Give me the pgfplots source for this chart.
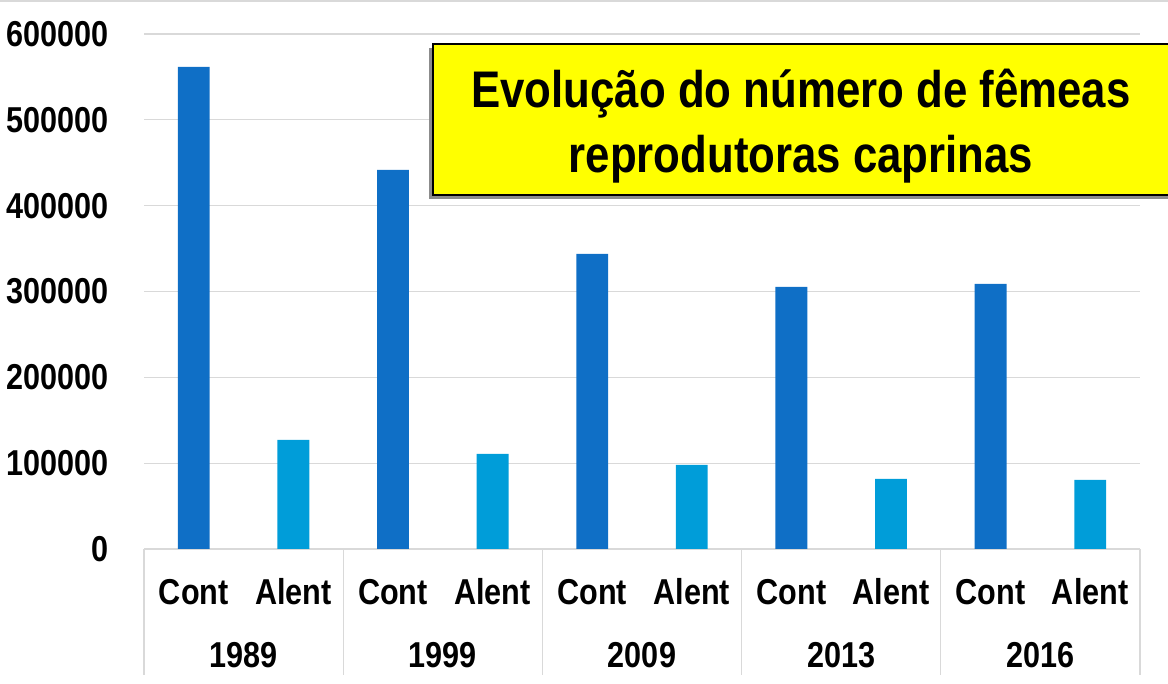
\documentclass[border=0pt]{standalone}
\usepackage{fontspec}
\setmainfont{Liberation Sans}[FakeStretch=0.85]
\usepackage{pgfplots}
\pgfplotsset{compat=1.18}
\definecolor{contblue}{HTML}{0F6FC6}
\definecolor{alentblue}{HTML}{009DD9}
\definecolor{gridgray}{HTML}{D9D9D9}
\definecolor{titleyellow}{HTML}{FFFF00}
\newcommand{\lblfont}{\fontsize{36}{40}\selectfont\bfseries}
\begin{document}
\begin{tikzpicture}[x=1pt,y=1pt]
\useasboundingbox (0,0) rectangle (1168,684);
\draw[gridgray, line width=1.5pt] (0,683) -- (1168,683);
\begin{axis}[
  at={(144pt,135pt)}, anchor=south west,
  width=996pt, height=515pt, scale only axis,
  xmin=-0.5, xmax=9.5, ymin=0, ymax=600000,
  ytick={0,100000,200000,300000,400000,500000,600000},
  scaled y ticks=false,
  axis line style={draw=none}, tick style={draw=none},
  ymajorgrids, grid style={gridgray, line width=1.2pt},
  yticklabel style={/pgf/number format/fixed, /pgf/number format/1000 sep={},
    /pgf/number format/assume math mode=true,
    font=\lblfont, anchor=east, inner sep=0pt, xshift=-35pt},
  xtick={0,...,9},
  xticklabels={Cont,Alent,Cont,Alent,Cont,Alent,Cont,Alent,Cont,Alent},
  xticklabel style={font=\lblfont, anchor=base, inner sep=0pt, yshift=-56pt},
  clip=false,
]
% Continente
\addplot[ybar, bar width=0.32, bar shift=0pt, fill=contblue, draw=none]
  coordinates {(0,561700)(2,441700)(4,343800)(6,305400)(8,308900)};
% Alentejo
\addplot[ybar, bar width=0.32, bar shift=0pt, fill=alentblue, draw=none]
  coordinates {(1,127000)(3,110700)(5,97900)(7,81600)(9,80400)};
\pgfplotsinvokeforeach{-0.5,1.5,3.5,5.5,7.5,9.5}{
  \draw[gridgray, line width=1.2pt] (axis cs:#1,0) -- ++(0pt,-126pt);
}
\node[font=\lblfont, anchor=base, inner sep=0pt, yshift=-119pt] at (axis cs:0.5,0) {1989};
\node[font=\lblfont, anchor=base, inner sep=0pt, yshift=-119pt] at (axis cs:2.5,0) {1999};
\node[font=\lblfont, anchor=base, inner sep=0pt, yshift=-119pt] at (axis cs:4.5,0) {2009};
\node[font=\lblfont, anchor=base, inner sep=0pt, yshift=-119pt] at (axis cs:6.5,0) {2013};
\node[font=\lblfont, anchor=base, inner sep=0pt, yshift=-119pt] at (axis cs:8.5,0) {2016};
\end{axis}
% title box
\fill[black!45] (429,485) rectangle (1168,636);
\draw[black, line width=2.5pt, fill=titleyellow] (433,489) rectangle (1172,640);
\node[font=\fontsize{51.5}{58}\selectfont\bfseries, anchor=base] at (801,576) {Evolução do número de fêmeas};
\node[font=\fontsize{51.5}{58}\selectfont\bfseries, anchor=base] at (801,511) {reprodutoras caprinas};
\end{tikzpicture}
\end{document}
